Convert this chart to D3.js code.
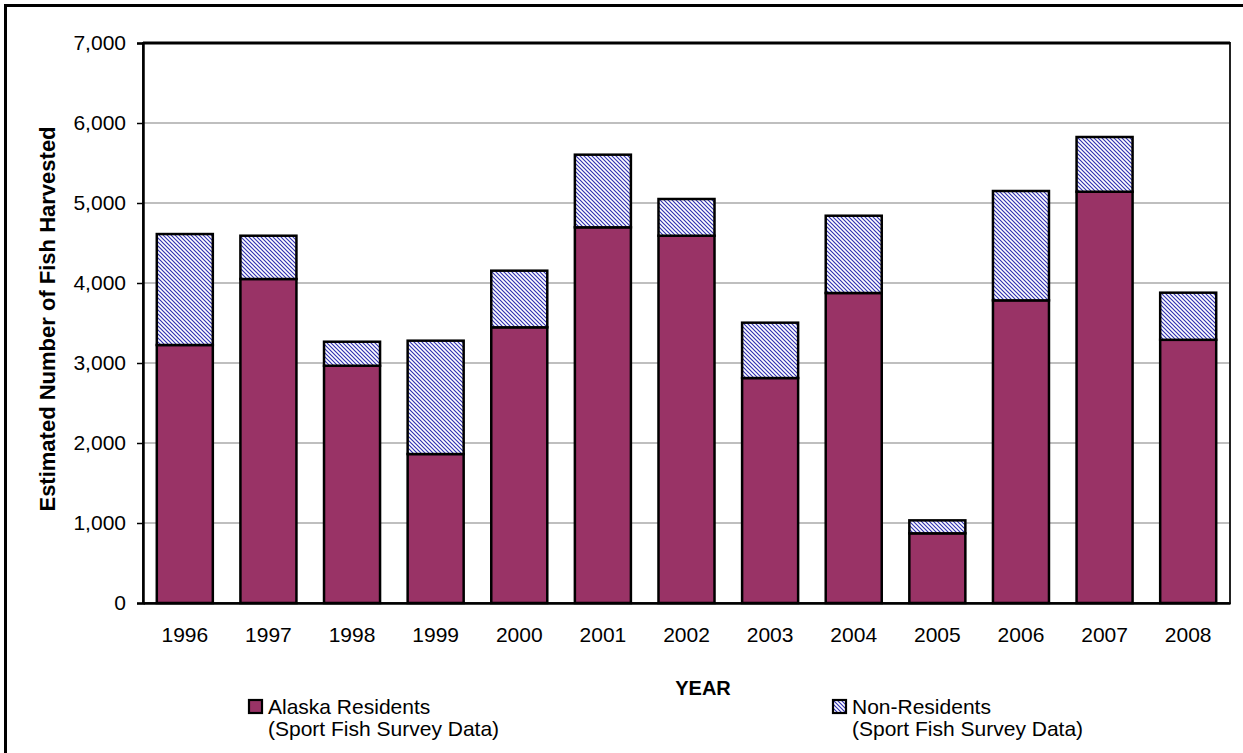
<!DOCTYPE html>
<html>
<head>
<meta charset="utf-8">
<script src="https://cdn.jsdelivr.net/npm/d3@7/dist/d3.min.js"></script>
<style>
  html, body { margin: 0; padding: 0; background: #fff; }
  svg { display: block; font-family: "Liberation Sans", Arial, sans-serif; }
</style>
</head>
<body>
<svg id="chart" width="1243" height="753"></svg>
<script>
// Sport fish harvest by year, split by angler residency
const years = ["1996","1997","1998","1999","2000","2001","2002","2003","2004","2005","2006","2007","2008"];
const residents    = [3225, 4050, 2966, 1862, 3446, 4696, 4591, 2812, 3875, 871, 3783, 5141, 3290];
const nonResidents = [1387, 541, 300, 1417, 708, 908, 459, 692, 966, 162, 1367, 684, 589];
const yTicks = [0, 1000, 2000, 3000, 4000, 5000, 6000, 7000];
const seriesNames = ["Alaska Residents", "Non-Residents"];
const seriesSub = "(Sport Fish Survey Data)";

const svg = d3.select("#chart");
const plot = { left: 143, top: 43, right: 1230, bottom: 603 };
const FONT = 21;

// diagonal hatch for the non-resident segment
const defs = svg.append("defs");
const pat = defs.append("pattern")
  .attr("id", "hatch").attr("patternUnits", "userSpaceOnUse")
  .attr("width", 4).attr("height", 4);
pat.append("rect").attr("width", 4).attr("height", 4).attr("fill", "#fff");
pat.append("path").attr("d", "M-1,-1 L5,5 M-1,3 L1,5 M3,-1 L5,1")
  .attr("stroke", "#3030b0").attr("stroke-width", 1.15);

// outer frame
svg.append("rect").attr("x", 5.5).attr("y", 5.5).attr("width", 1245).attr("height", 760)
  .attr("fill", "none").attr("stroke", "#000").attr("stroke-width", 3);

const x = d3.scaleBand().domain(years).range([plot.left, plot.right])
  .paddingInner(0.33).paddingOuter(0.165);
const y = d3.scaleLinear().domain([0, 7000]).range([plot.bottom, plot.top]);

// gridlines
svg.append("g").selectAll("line").data(yTicks.slice(1, -1)).join("line")
  .attr("x1", plot.left).attr("x2", plot.right)
  .attr("y1", d => y(d)).attr("y2", d => y(d))
  .attr("stroke", "#808080").attr("stroke-width", 1.2);

// plot area border
svg.append("rect").attr("x", plot.left).attr("y", plot.top)
  .attr("width", plot.right - plot.left).attr("height", plot.bottom - plot.top)
  .attr("fill", "none").attr("stroke", "#222").attr("stroke-width", 2);
svg.append("line").attr("x1", plot.left).attr("x2", plot.right)
  .attr("y1", plot.top).attr("y2", plot.top).attr("stroke", "#000").attr("stroke-width", 3);

// stacked bars
const stacked = years.map((yr, i) => ({ yr, r: residents[i], n: nonResidents[i] }));
const bars = svg.append("g");
bars.selectAll("rect.res").data(stacked).join("rect").attr("class", "res")
  .attr("x", d => x(d.yr)).attr("width", x.bandwidth())
  .attr("y", d => y(d.r)).attr("height", d => y(0) - y(d.r))
  .attr("fill", "#993366").attr("stroke", "#000").attr("stroke-width", 2.5);
bars.selectAll("rect.non").data(stacked).join("rect").attr("class", "non")
  .attr("x", d => x(d.yr)).attr("width", x.bandwidth())
  .attr("y", d => y(d.r + d.n)).attr("height", d => y(d.r) - y(d.r + d.n))
  .attr("fill", "url(#hatch)").attr("stroke", "#000").attr("stroke-width", 2.5);

// y axis
const yAxis = d3.axisLeft(y).tickValues(yTicks).tickFormat(d3.format(",")).tickSize(6).tickPadding(11);
const gy = svg.append("g").attr("transform", `translate(${plot.left},0)`).call(yAxis);
gy.select(".domain").attr("stroke", "#000").attr("stroke-width", 2.5);
gy.selectAll(".tick line").attr("stroke", "#000").attr("stroke-width", 1.5);
gy.selectAll(".tick text").attr("font-size", FONT).attr("fill", "#000")
  .attr("font-family", "Liberation Sans, Arial, sans-serif");

// x axis
const xAxis = d3.axisBottom(x).tickSize(0).tickPadding(24);
const gx = svg.append("g").attr("transform", `translate(0,${plot.bottom})`).call(xAxis);
gx.select(".domain").attr("stroke", "#000").attr("stroke-width", 2.5);
gx.selectAll(".tick text").attr("font-size", FONT).attr("fill", "#000")
  .attr("font-family", "Liberation Sans, Arial, sans-serif");

// axis titles
svg.append("text").attr("transform", "translate(55,319) rotate(-90)")
  .attr("text-anchor", "middle").attr("font-size", 22).attr("font-weight", "bold")
  .text("Estimated Number of Fish Harvested");
svg.append("text").attr("x", 703).attr("y", 695)
  .attr("text-anchor", "middle").attr("font-size", 20).attr("font-weight", "bold")
  .text("YEAR");

// legend
const legend = [
  { name: seriesNames[0], fill: "#993366", x: 248 },
  { name: seriesNames[1], fill: "url(#hatch)", x: 832 }
];
const lg = svg.append("g").selectAll("g").data(legend).join("g")
  .attr("transform", d => `translate(${d.x},699)`);
lg.append("rect").attr("x", 1).attr("y", 1).attr("width", 13).attr("height", 13)
  .attr("fill", d => d.fill).attr("stroke", "#000").attr("stroke-width", 2.2);
lg.append("text").attr("x", 20).attr("y", 15).attr("font-size", FONT).text(d => d.name);
lg.append("text").attr("x", 20).attr("y", 37).attr("font-size", FONT).text(seriesSub);
</script>
</body>
</html>
